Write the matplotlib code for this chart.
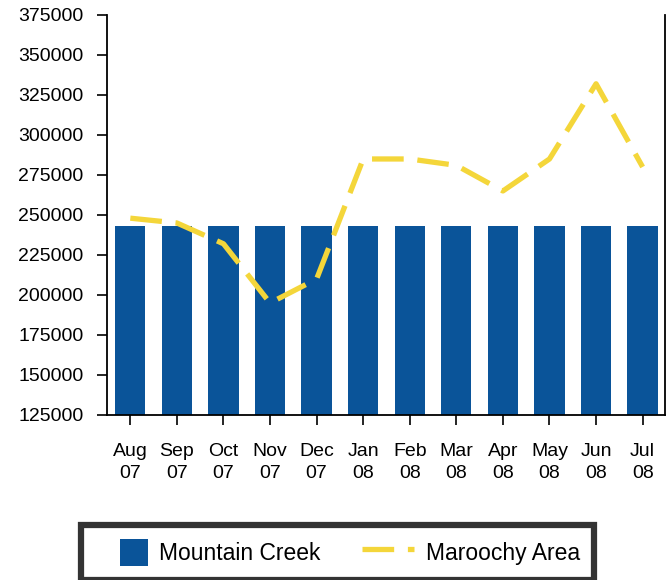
import numpy as np
import matplotlib.pyplot as plt
from matplotlib.legend_handler import HandlerPatch
from matplotlib.patches import Rectangle

months = ["Aug\n07", "Sep\n07", "Oct\n07", "Nov\n07", "Dec\n07", "Jan\n08",
          "Feb\n08", "Mar\n08", "Apr\n08", "May\n08", "Jun\n08", "Jul\n08"]
mountain_creek = [243000] * 12
maroochy_area = [248000, 245000, 232000, 195000, 210000, 285000,
                 285000, 281000, 265000, 285000, 332000, 280000]

plt.rcParams['font.family'] = ['Liberation Sans', 'DejaVu Sans']

blue = '#0a5499'
yellow = '#f4d63a'


def square_patch(legend, orig_handle, xdescent, ydescent, width, height, fontsize):
    # square swatch, pushed to the right end of the handle box
    return Rectangle((width - height - xdescent, -ydescent), height, height)


fig = plt.figure(figsize=(6.69, 5.8), dpi=100)
ax = fig.add_axes([0.16, 0.2845, 0.834, 0.6897])

x = np.arange(len(months))
bars = ax.bar(x, mountain_creek, width=0.65, color=blue, label='Mountain Creek', zorder=2)
line, = ax.plot(x, maroochy_area, color=yellow, lw=3.8, dashes=(6, 2.6),
                label='Maroochy Area', zorder=3)

ax.set_ylim(125000, 375000)
ax.set_yticks(np.arange(125000, 375001, 25000))
ax.set_xlim(-0.5, 11.48)
ax.set_xticks(x)
ax.set_xticklabels(months, fontsize=14, linespacing=1.4)
ax.tick_params(axis='y', labelsize=14, length=7, width=1.2, pad=10)
ax.tick_params(axis='x', length=7, width=1.2, pad=13)
ax.spines['top'].set_visible(False)
for s in ['left', 'right', 'bottom']:
    ax.spines[s].set_linewidth(1.3)

swatch = bars.patches[0]
leg = fig.legend([swatch, line], ['Mountain Creek', 'Maroochy Area'],
                 loc='upper center', bbox_to_anchor=(0.5045, 0.095), ncol=2,
                 fontsize=16.5, frameon=True, fancybox=False,
                 handlelength=2.3, handleheight=1.48, handletextpad=0.5,
                 columnspacing=1.8, borderpad=0.6, borderaxespad=0,
                 handler_map={swatch: HandlerPatch(patch_func=square_patch)})
leg.get_frame().set_edgecolor('black')
leg.get_frame().set_linewidth(4.5)

fig.savefig('out.png', dpi=100)
